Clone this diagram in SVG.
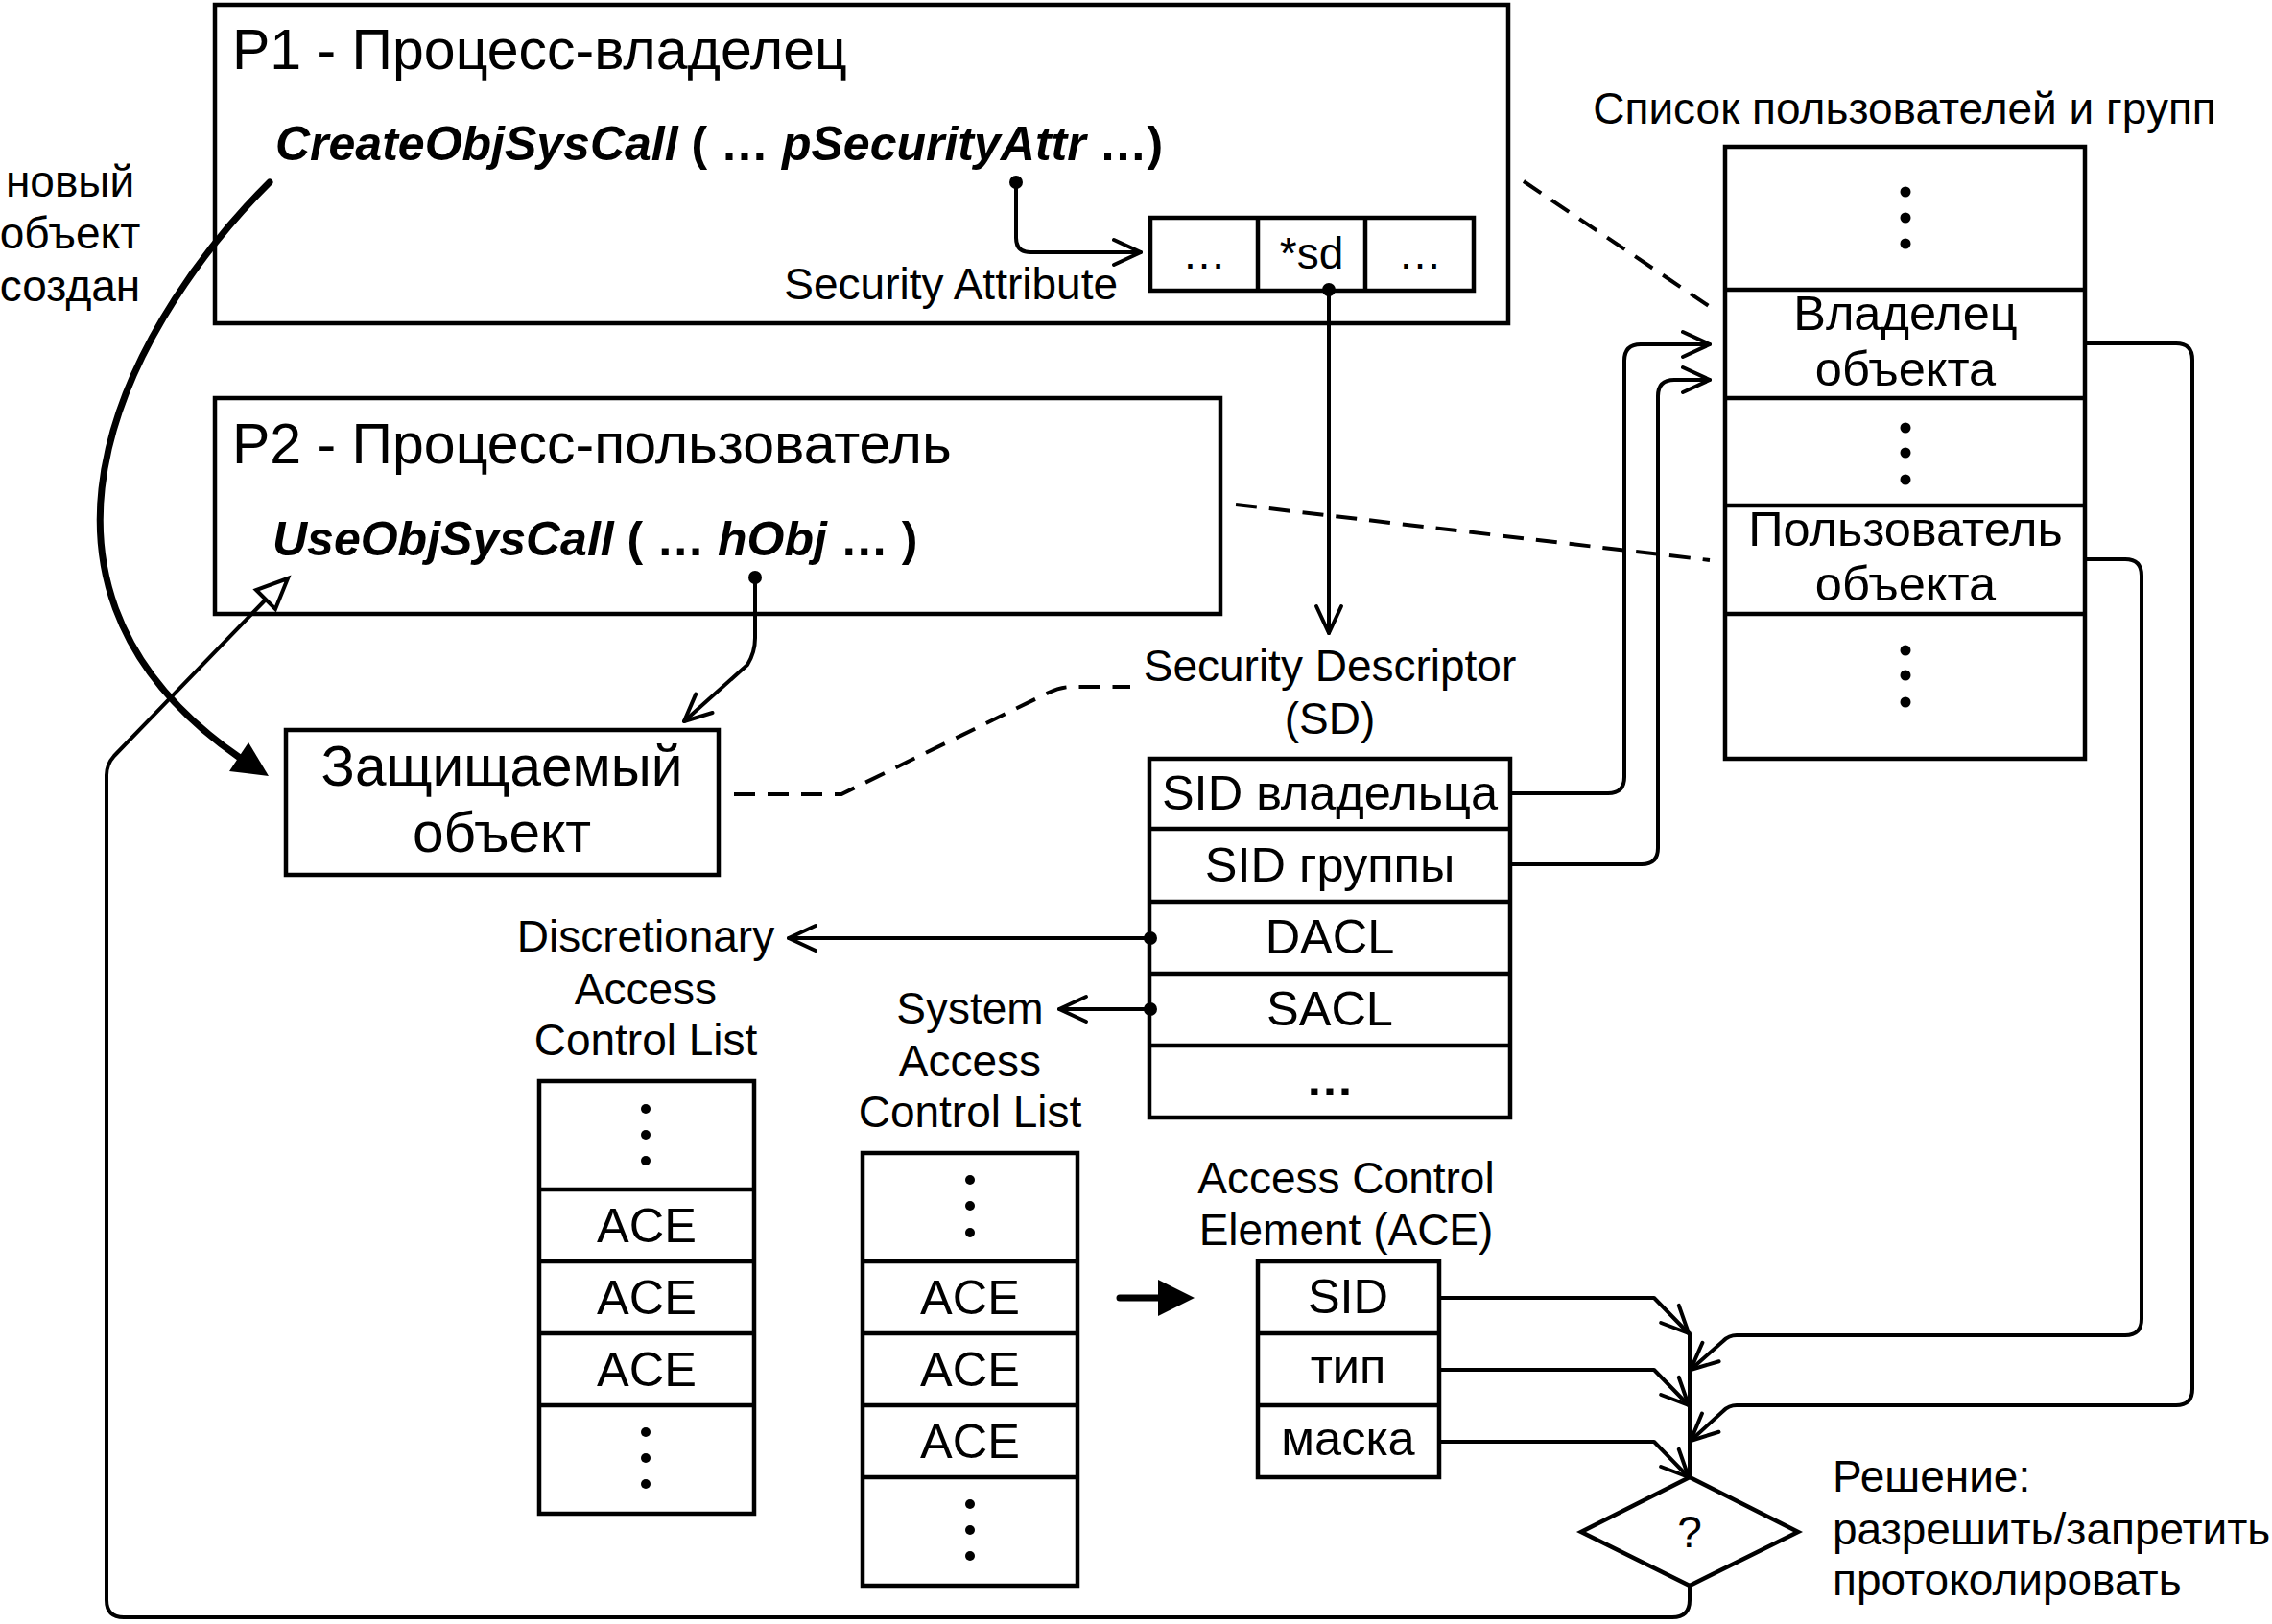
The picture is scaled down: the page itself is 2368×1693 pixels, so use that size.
<svg xmlns="http://www.w3.org/2000/svg" width="2368" height="1693" viewBox="0 0 2368 1693" font-family="Liberation Sans, Arial, sans-serif">
<defs>
<style>
.box{fill:#fff;stroke:#000;stroke-width:4.5;stroke-linejoin:miter}
.ln{fill:none;stroke:#000;stroke-width:4;stroke-linejoin:round;stroke-linecap:round}
.thick{fill:none;stroke:#000;stroke-width:7;stroke-linecap:round}
.dash{fill:none;stroke:#000;stroke-width:4;stroke-dasharray:22 13}
.div{stroke:#000;stroke-width:4.5}
text{font-family:"Liberation Sans",Arial,sans-serif;fill:#000}
.t46{font-size:46px}
.t50{font-size:50.5px}
.tc{font-size:50px}
.t59{font-size:59px}
.t58{font-size:58.5px}
.mid{text-anchor:middle}
.bi{font-weight:bold;font-style:italic}
.b{font-weight:bold}
.dot{fill:#000}
</style>
<marker id="chev" markerUnits="userSpaceOnUse" markerWidth="40" markerHeight="40" viewBox="-34 -20 40 40" refX="0" refY="0" orient="auto" overflow="visible">
<path d="M-28,-13 L0,0 L-28,13" fill="none" stroke="#000" stroke-width="4" stroke-linecap="round" stroke-linejoin="round"/>
</marker>
</defs>
<rect width="2368" height="1693" fill="#fff"/>

<g id="p1">
<rect class="box" x="224" y="5" width="1348" height="332"/>
<text class="t59" x="242" y="72">P1 - Процесс-владелец</text>
<text class="tc" x="287" y="167"><tspan class="bi">CreateObjSysCall</tspan><tspan class="b"> ( … </tspan><tspan class="bi">pSecurityAttr</tspan><tspan class="b"> …)</tspan></text>
<text class="t46" x="1165" y="312" text-anchor="end">Security Attribute</text>
</g>

<g id="security-attribute">
<rect class="box" x="1199" y="227" width="337" height="76"/>
<line class="div" x1="1311" y1="227" x2="1311" y2="303"/>
<line class="div" x1="1423" y1="227" x2="1423" y2="303"/>
<text class="t46 mid" x="1255" y="280">…</text>
<text class="t46 mid" x="1367" y="280">*sd</text>
<text class="t46 mid" x="1480" y="280">…</text>
</g>

<g id="p2">
<rect class="box" x="224" y="415" width="1048" height="225"/>
<text class="t59" x="242" y="483">P2 - Процесс-пользователь</text>
<text class="tc" x="284" y="579"><tspan class="bi">UseObjSysCall</tspan><tspan class="b"> ( … </tspan><tspan class="bi">hObj</tspan><tspan class="b"> … )</tspan></text>
</g>

<g id="new-object-label">
<text class="t46 mid" x="73" y="205">новый</text>
<text class="t46 mid" x="73" y="259">объект</text>
<text class="t46 mid" x="73" y="314">создан</text>
</g>

<g id="protected-object">
<rect class="box" x="298" y="761" width="451" height="151"/>
<text class="t58 mid" x="523" y="819">Защищаемый</text>
<text class="t58 mid" x="523" y="888">объект</text>
</g>

<g id="user-list">
<text class="t46 mid" x="1985" y="129">Список пользователей и групп</text>
<rect class="box" x="1798" y="153" width="375" height="638"/>
<line class="div" x1="1798" y1="302" x2="2173" y2="302"/>
<line class="div" x1="1798" y1="415" x2="2173" y2="415"/>
<line class="div" x1="1798" y1="527" x2="2173" y2="527"/>
<line class="div" x1="1798" y1="640" x2="2173" y2="640"/>
<circle class="dot" cx="1986" cy="200" r="5.5"/><circle class="dot" cx="1986" cy="227" r="5.5"/><circle class="dot" cx="1986" cy="254" r="5.5"/>
<text class="t50 mid" x="1986" y="344">Владелец</text>
<text class="t50 mid" x="1986" y="402">объекта</text>
<circle class="dot" cx="1986" cy="446" r="5.5"/><circle class="dot" cx="1986" cy="472" r="5.5"/><circle class="dot" cx="1986" cy="500" r="5.5"/>
<text class="t50 mid" x="1986" y="569">Пользователь</text>
<text class="t50 mid" x="1986" y="626">объекта</text>
<circle class="dot" cx="1986" cy="678" r="5.5"/><circle class="dot" cx="1986" cy="704" r="5.5"/><circle class="dot" cx="1986" cy="732" r="5.5"/>
</g>

<g id="security-descriptor">
<text class="t46 mid" x="1386" y="710">Security Descriptor</text>
<text class="t46 mid" x="1386" y="765">(SD)</text>
<rect class="box" x="1198" y="791" width="376" height="374"/>
<line class="div" x1="1198" y1="864" x2="1574" y2="864"/>
<line class="div" x1="1198" y1="940" x2="1574" y2="940"/>
<line class="div" x1="1198" y1="1015" x2="1574" y2="1015"/>
<line class="div" x1="1198" y1="1090" x2="1574" y2="1090"/>
<text class="t50 mid" x="1386" y="844">SID владельца</text>
<text class="t50 mid" x="1386" y="919">SID группы</text>
<text class="t50 mid" x="1386" y="994">DACL</text>
<text class="t50 mid" x="1386" y="1069">SACL</text>
<text class="t50 mid b" x="1386" y="1142">…</text>
</g>

<g id="dacl">
<text class="t46 mid" x="673" y="992">Discretionary</text>
<text class="t46 mid" x="673" y="1047">Access</text>
<text class="t46 mid" x="673" y="1100">Control List</text>
<rect class="box" x="562" y="1127" width="224" height="451"/>
<line class="div" x1="562" y1="1240" x2="786" y2="1240"/>
<line class="div" x1="562" y1="1315" x2="786" y2="1315"/>
<line class="div" x1="562" y1="1390" x2="786" y2="1390"/>
<line class="div" x1="562" y1="1465" x2="786" y2="1465"/>
<circle class="dot" cx="673" cy="1156" r="5"/><circle class="dot" cx="673" cy="1183" r="5"/><circle class="dot" cx="673" cy="1210" r="5"/>
<text class="t50 mid" x="674" y="1295">ACE</text>
<text class="t50 mid" x="674" y="1370">ACE</text>
<text class="t50 mid" x="674" y="1445">ACE</text>
<circle class="dot" cx="673" cy="1493" r="5"/><circle class="dot" cx="673" cy="1520" r="5"/><circle class="dot" cx="673" cy="1547" r="5"/>
</g>

<g id="sacl">
<text class="t46 mid" x="1011" y="1067">System</text>
<text class="t46 mid" x="1011" y="1122">Access</text>
<text class="t46 mid" x="1011" y="1175">Control List</text>
<rect class="box" x="899" y="1202" width="224" height="451"/>
<line class="div" x1="899" y1="1315" x2="1123" y2="1315"/>
<line class="div" x1="899" y1="1390" x2="1123" y2="1390"/>
<line class="div" x1="899" y1="1465" x2="1123" y2="1465"/>
<line class="div" x1="899" y1="1540" x2="1123" y2="1540"/>
<circle class="dot" cx="1011" cy="1230" r="5"/><circle class="dot" cx="1011" cy="1257" r="5"/><circle class="dot" cx="1011" cy="1285" r="5"/>
<text class="t50 mid" x="1011" y="1370">ACE</text>
<text class="t50 mid" x="1011" y="1445">ACE</text>
<text class="t50 mid" x="1011" y="1520">ACE</text>
<circle class="dot" cx="1011" cy="1568" r="5"/><circle class="dot" cx="1011" cy="1595" r="5"/><circle class="dot" cx="1011" cy="1622" r="5"/>
</g>

<g id="ace">
<text class="t46 mid" x="1403" y="1244">Access Control</text>
<text class="t46 mid" x="1403" y="1298">Element (ACE)</text>
<rect class="box" x="1311" y="1315" width="189" height="225"/>
<line class="div" x1="1311" y1="1390" x2="1500" y2="1390"/>
<line class="div" x1="1311" y1="1465" x2="1500" y2="1465"/>
<text class="t50 mid" x="1405" y="1369">SID</text>
<text class="t50 mid" x="1405" y="1442">тип</text>
<text class="t50 mid" x="1405" y="1517">маска</text>
</g>

<g id="decision">
<polygon class="box" points="1761,1540 1874,1597 1761,1653 1648,1597"/>
<text class="t46 mid" x="1761" y="1613">?</text>
<text class="t46" x="1910" y="1555">Решение:</text>
<text class="t46" x="1910" y="1610">разрешить/запретить</text>
<text class="t46" x="1910" y="1663">протоколировать</text>
</g>

<g id="connectors">
<path class="dash" d="M1588,189 L1781,319"/>
<path class="dash" d="M1288,526 L1782,584"/>
<path class="dash" d="M765,828 L877,828 L1093,722 Q1105,716 1118,716 L1178,716"/>
<path class="ln" d="M1059,190 L1059,248 Q1059,263 1074,263 L1189,263" marker-end="url(#chev)"/>
<circle class="dot" cx="1059" cy="190" r="7"/>
<path class="ln" d="M1385,302 L1385,660" marker-end="url(#chev)"/>
<circle class="dot" cx="1385" cy="302" r="7"/>
<path class="ln" d="M787,602 L787,665 Q787,680 779,693 L713,752" marker-end="url(#chev)"/>
<circle class="dot" cx="787" cy="602" r="7"/>
<path class="ln" d="M1574,827 L1676,827 Q1693,827 1693,810 L1693,376 Q1693,359 1710,359 L1782,359" marker-end="url(#chev)"/>
<path class="ln" d="M1574,901 L1711,901 Q1728,901 1728,884 L1728,413 Q1728,396 1745,396 L1782,396" marker-end="url(#chev)"/>
<path class="ln" d="M1199,978 L822,978" marker-end="url(#chev)"/>
<circle class="dot" cx="1199" cy="978" r="7"/>
<path class="ln" d="M1199,1052 L1104,1052" marker-end="url(#chev)"/>
<circle class="dot" cx="1199" cy="1052" r="7"/>
<path class="ln" d="M2173,358 L2268,358 Q2285,358 2285,375 L2285,1448 Q2285,1465 2268,1465 L1810,1465 Q1802,1465 1796,1471 L1762,1502" marker-end="url(#chev)"/>
<path class="ln" d="M2173,583 L2215,583 Q2232,583 2232,600 L2232,1375 Q2232,1392 2215,1392 L1810,1392 Q1802,1392 1796,1398 L1762,1428" marker-end="url(#chev)"/>
<path class="ln" d="M1500,1353 L1724,1353 L1760,1390" marker-end="url(#chev)"/>
<path class="ln" d="M1500,1428 L1724,1428 L1760,1465" marker-end="url(#chev)"/>
<path class="ln" d="M1500,1503 L1724,1503 L1760,1540" marker-end="url(#chev)"/>
<path class="ln" d="M1761,1390 L1761,1540"/>
<path class="thick" d="M1167,1353 L1212,1353"/>
<polygon points="1207,1334 1245,1353 1207,1372" fill="#000"/>
<path class="ln" d="M1761,1653 L1761,1668 Q1761,1686 1743,1686 L129,1686 Q111,1686 111,1668 L111,808 Q111,797 119,788 L277,625"/>
<polygon points="300,603 267,615 287,635" fill="#fff" stroke="#000" stroke-width="4" stroke-linejoin="miter"/>
<path class="thick" d="M281,190 C150,320 -25,600 250,790"/>
<polygon points="280,809 239,804 259,774" fill="#000"/>
</g>
</svg>
